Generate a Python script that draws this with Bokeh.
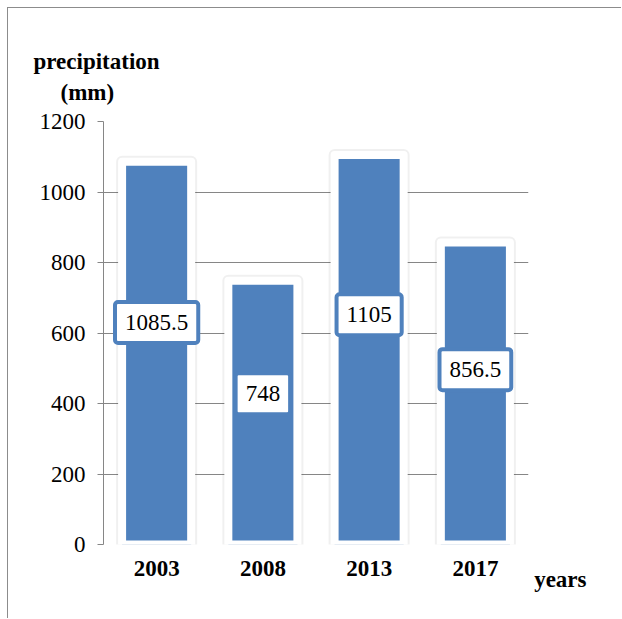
from bokeh.plotting import figure
from bokeh.models import ColumnDataSource, FixedTicker, Title, FactorRange
from bokeh.core.properties import value
from bokeh.embed import file_html
from bokeh.resources import INLINE

years = ["2003", "2008", "2013", "2017"]
precip = [1085.5, 748, 1105, 856.5]
label_text = ["1085.5", "748", "1105", "856.5"]
label_y = [630, 428, 652, 496]
y_ticks = [0, 200, 400, 600, 800, 1000, 1200]

BLUE = "#4F81BD"
GRAY = "#868686"
FONT = "Liberation Serif"

src = ColumnDataSource(dict(x=years, top=precip, lt=label_text, ly=label_y))

p = figure(x_range=FactorRange(*years, range_padding=0), y_range=(0, 1200),
           width=614, height=611, output_backend="svg", toolbar_location=None,
           min_border_left=95, min_border_right=94, min_border_top=113, min_border_bottom=75)
p.margin = (7, 0, 0, 7)
p.styles = {"border-left": "1px solid #8c8c8c", "border-top": "1px solid #8c8c8c"}
p.outline_line_color = None
p.background_fill_color = "white"
p.border_fill_color = "white"

# bars: soft shadow, then blue bar with white rim
p.vbar(x="x", top="top", bottom=0, width=0.65, source=src, fill_color=None,
       line_color="black", line_alpha=0.06, line_width=12, line_join="round")
p.vbar(x="x", top="top", bottom=0, width=0.65, source=src, fill_color=BLUE,
       line_color="white", line_width=8, line_join="round")

p.text(x="x", y="ly", text="lt", source=src, text_font=value(FONT),
       text_font_size="23px", text_color="black", text_align="center",
       text_baseline="middle", background_fill_color="white",
       border_line_color=BLUE, border_line_width=4, border_radius=3,
       padding=dict(x=10, y=13))

# axes
p.xgrid.grid_line_color = None
p.ygrid.grid_line_color = GRAY
p.ygrid.ticker = FixedTicker(ticks=y_ticks)
p.yaxis.ticker = FixedTicker(ticks=y_ticks)
p.yaxis.axis_line_color = GRAY
p.yaxis.major_tick_line_color = GRAY
p.yaxis.major_tick_out = 6
p.yaxis.major_tick_in = 0
p.yaxis.minor_tick_line_color = None
p.yaxis.major_label_standoff = 12
p.yaxis.major_label_text_font = FONT
p.yaxis.major_label_text_font_size = "23px"
p.yaxis.major_label_text_color = "black"

p.xaxis.axis_line_color = None
p.xaxis.major_tick_line_color = None
p.xaxis.major_label_standoff = 10
p.xaxis.major_label_text_font = FONT
p.xaxis.major_label_text_font_size = "23px"
p.xaxis.major_label_text_font_style = "bold"
p.xaxis.major_label_text_color = "black"

def title(text, align, offset, standoff):
    return Title(text=text, align=align, offset=offset, standoff=standoff,
                 text_font=FONT, text_font_size="23px", text_font_style="bold",
                 text_color="black")

p.add_layout(title("(mm)", "left", -43, 33), "above")
p.add_layout(title("precipitation", "left", -70, -25), "above")
p.add_layout(title("years", "right", -58, -27), "below")

open("out.html", "w").write(file_html(p, INLINE))
